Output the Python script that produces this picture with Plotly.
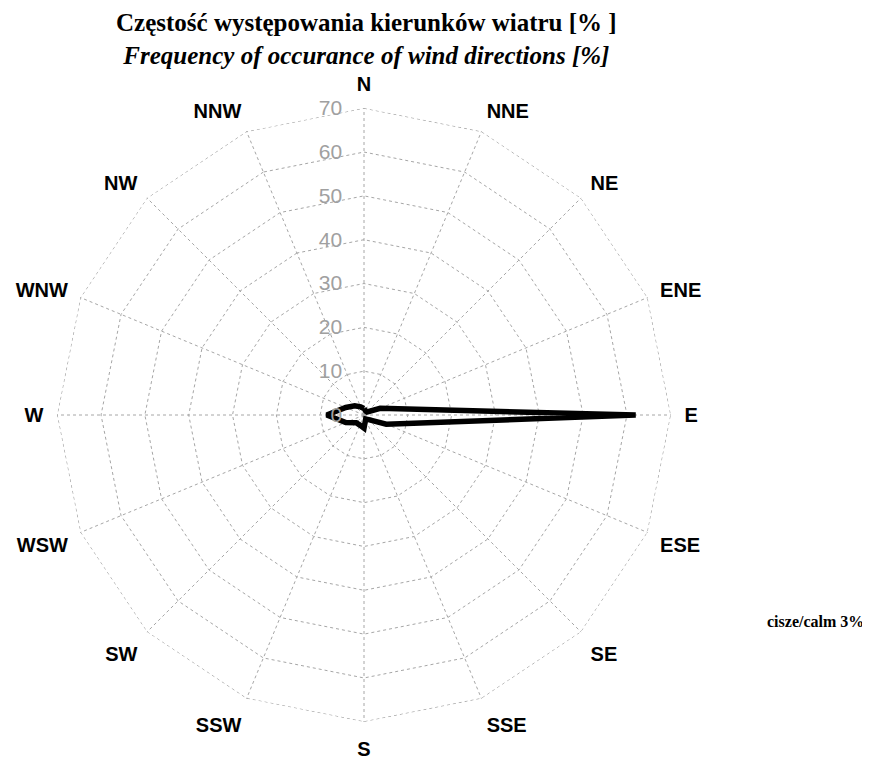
import plotly.graph_objects as go

directions = ["N", "NNE", "NE", "ENE", "E", "ESE", "SE", "SSE",
              "S", "SSW", "SW", "WSW", "W", "WNW", "NW", "NNW"]
frequency = [1.5, 1.0, 1.0, 4.0, 62.0, 5.5, 1.5, 1.0,
             3.0, 2.5, 2.5, 4.5, 8.5, 4.5, 3.0, 2.0]
radial_ticks = [0, 10, 20, 30, 40, 50, 60, 70]
calm_text = "cisze/calm 3%"
title_pl = "Częstość występowania kierunków wiatru [% ]"
title_en = "Frequency of occurance of wind directions [%]"

W, H = 870, 758
cx, cy, R = 356, 407, 307
GRID = "#a6a6a6"

fig = go.Figure()
# outer grid ring at the top radial tick
fig.add_trace(go.Scatterpolar(
    r=[radial_ticks[-1]] * (len(directions) + 1),
    theta=directions + directions[:1],
    mode="lines",
    line=dict(color=GRID, width=1, dash="dot"),
    showlegend=False,
    hoverinfo="skip",
))
fig.add_trace(go.Scatterpolar(
    r=frequency + frequency[:1],
    theta=directions + directions[:1],
    mode="lines",
    line=dict(color="black", width=5.5),
    showlegend=False,
    hoverinfo="skip",
))

fig.update_layout(
    width=W, height=H,
    margin=dict(l=0, r=0, t=0, b=0),
    paper_bgcolor="white",
    plot_bgcolor="white",
    showlegend=False,
    polar=dict(
        domain=dict(x=[(cx - R) / W, (cx + R) / W],
                    y=[1 - (cy + R) / H, 1 - (cy - R) / H]),
        gridshape="linear",
        bgcolor="white",
        radialaxis=dict(
            range=[0, 70.05],
            tickvals=radial_ticks,
            angle=90,
            side="counterclockwise",
            tickangle=90,
            showline=False,
            ticks="outside",
            ticklen=14,
            tickcolor="rgba(0,0,0,0)",
            gridcolor=GRID,
            griddash="dot",
            gridwidth=1,
            tickfont=dict(family="Liberation Sans", size=21, color="#a0a0a0"),
        ),
        angularaxis=dict(
            categoryorder="array",
            categoryarray=directions,
            direction="clockwise",
            rotation=90,
            showline=False,
            ticks="outside",
            ticklen=9,
            tickcolor="rgba(0,0,0,0)",
            gridcolor=GRID,
            griddash="dot",
            gridwidth=1,
            tickfont=dict(family="Liberation Sans", size=20, color="black", weight="bold"),
        ),
    ),
    annotations=[
        dict(text="<b>" + title_pl + "</b><br><b><i>" + title_en + "</i></b>",
             x=358 / W, y=1,
             xref="paper", yref="paper", showarrow=False, xanchor="center", yanchor="top",
             align="center", borderpad=0,
             font=dict(family="Liberation Serif", size=25, color="black")),
        dict(text="<b>" + calm_text + "</b>", x=807 / W, y=1 - 613 / H,
             xref="paper", yref="paper", showarrow=False, xanchor="center", yanchor="middle",
             font=dict(family="Liberation Serif", size=16, color="black")),
    ],
)

fig.write_html("out.html")
